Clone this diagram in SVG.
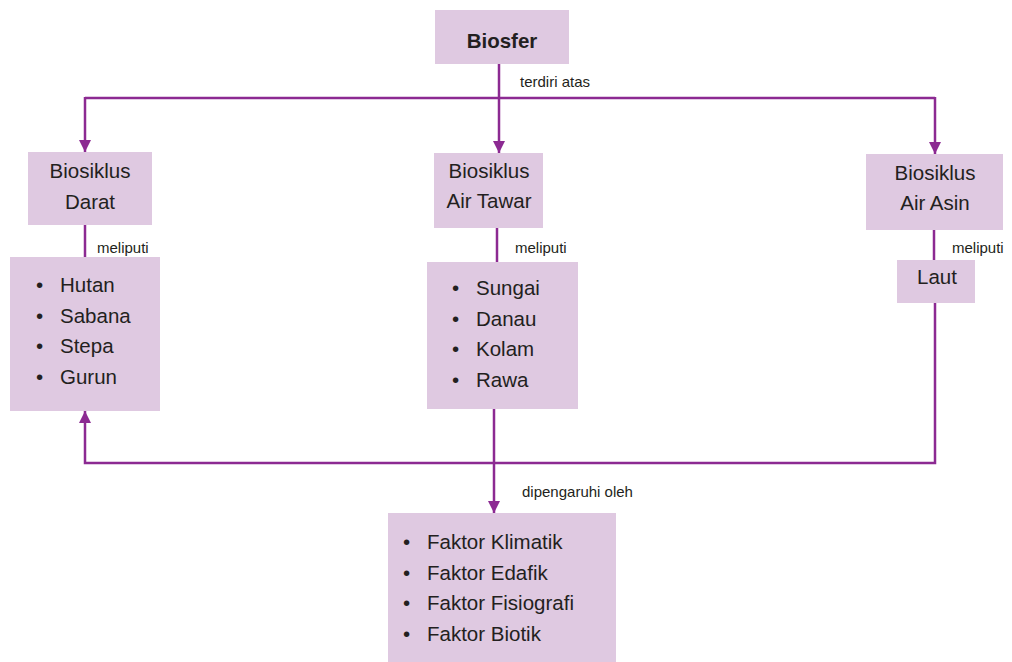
<svg xmlns="http://www.w3.org/2000/svg" width="1012" height="662" viewBox="0 0 1012 662">
<defs>
<marker id="arr" markerUnits="userSpaceOnUse" markerWidth="12" markerHeight="12" viewBox="0 0 12 12" refX="12" refY="6" orient="auto">
<path d="M0,0 L12,6 L0,12 Z" fill="#8c2a92"/>
</marker>
<style>
.box{fill:#dfc9e1}
.t{font-family:"Liberation Sans",Arial,sans-serif;font-size:20.5px;fill:#231f20}
.b{font-weight:bold}
.l{font-family:"Liberation Sans",Arial,sans-serif;font-size:15px;fill:#231f20}
.c{fill:none;stroke:#8c2a92;stroke-width:2.5}
</style>
</defs>
<rect width="1012" height="662" fill="#ffffff"/>
<g id="connectors">
<line class="c" x1="499" y1="64" x2="499" y2="153" marker-end="url(#arr)"/>
<line class="c" x1="85" y1="98" x2="935" y2="98"/>
<line class="c" x1="85" y1="97" x2="85" y2="152" marker-end="url(#arr)"/>
<line class="c" x1="935" y1="97" x2="935" y2="154" marker-end="url(#arr)"/>
<line class="c" x1="85" y1="225" x2="85" y2="257"/>
<line class="c" x1="497" y1="228" x2="497" y2="262"/>
<line class="c" x1="934" y1="230" x2="934" y2="260"/>
<polyline class="c" points="935,303 935,463 85,463 85,411" marker-end="url(#arr)"/>
<line class="c" x1="494" y1="409" x2="494" y2="513" marker-end="url(#arr)"/>
<text class="l" x="520" y="87">terdiri atas</text>
<text class="l" x="97" y="253">meliputi</text>
<text class="l" x="515" y="253">meliputi</text>
<text class="l" x="952" y="253">meliputi</text>
<text class="l" x="522" y="497">dipengaruhi oleh</text>
</g>
<g id="biosfer">
<rect class="box" x="435" y="10" width="134" height="54"/>
<text class="t b" x="502" y="48" text-anchor="middle">Biosfer</text>
</g>
<g id="darat">
<rect class="box" x="28" y="152" width="124" height="73"/>
<text class="t" x="90" y="178" text-anchor="middle">Biosiklus</text>
<text class="t" x="90" y="209" text-anchor="middle">Darat</text>
</g>
<g id="airtawar">
<rect class="box" x="434" y="153" width="109" height="75"/>
<text class="t" x="489" y="178" text-anchor="middle">Biosiklus</text>
<text class="t" x="489" y="208" text-anchor="middle">Air Tawar</text>
</g>
<g id="airasin">
<rect class="box" x="866" y="154" width="137" height="76"/>
<text class="t" x="935" y="180" text-anchor="middle">Biosiklus</text>
<text class="t" x="935" y="210" text-anchor="middle">Air Asin</text>
</g>
<g id="darat-list">
<rect class="box" x="10" y="257" width="150" height="154"/>
<text class="t" x="36" y="292">•</text><text class="t" x="60" y="292">Hutan</text>
<text class="t" x="36" y="323">•</text><text class="t" x="60" y="323">Sabana</text>
<text class="t" x="36" y="353">•</text><text class="t" x="60" y="353">Stepa</text>
<text class="t" x="36" y="384">•</text><text class="t" x="60" y="384">Gurun</text>
</g>
<g id="airtawar-list">
<rect class="box" x="427" y="262" width="151" height="147"/>
<text class="t" x="452" y="295">•</text><text class="t" x="476" y="295">Sungai</text>
<text class="t" x="452" y="326">•</text><text class="t" x="476" y="326">Danau</text>
<text class="t" x="452" y="356">•</text><text class="t" x="476" y="356">Kolam</text>
<text class="t" x="452" y="387">•</text><text class="t" x="476" y="387">Rawa</text>
</g>
<g id="laut">
<rect class="box" x="897" y="260" width="78" height="43"/>
<text class="t" x="937" y="284" text-anchor="middle">Laut</text>
</g>
<g id="faktor">
<rect class="box" x="388" y="513" width="228" height="149"/>
<text class="t" x="403" y="549">•</text><text class="t" x="427" y="549">Faktor Klimatik</text>
<text class="t" x="403" y="580">•</text><text class="t" x="427" y="580">Faktor Edafik</text>
<text class="t" x="403" y="610">•</text><text class="t" x="427" y="610">Faktor Fisiografi</text>
<text class="t" x="403" y="641">•</text><text class="t" x="427" y="641">Faktor Biotik</text>
</g>
</svg>
